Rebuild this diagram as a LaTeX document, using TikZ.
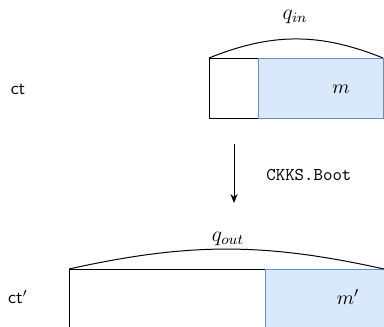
\documentclass[tikz,border=0pt]{standalone}
\usetikzlibrary{arrows.meta}
\definecolor{msgfill}{HTML}{DAE8FC}
\definecolor{msgdraw}{HTML}{6C8EBF}
\tikzset{
  plainpart/.style={draw=black, line width=0.55pt},
  msgpart/.style={fill=msgfill, draw=msgdraw, line width=0.55pt},
  modarc/.style={draw=black, line width=0.55pt},
  lbl/.style={inner sep=0pt, font=\sffamily},
  mathlbl/.style={inner sep=0pt, font=\fontsize{11}{13}\selectfont},
  modlbl/.style={inner sep=0pt, font=\fontsize{12}{14}\selectfont},
}
\begin{document}
\begin{tikzpicture}[x=0.5556pt, y=-0.5556pt]
  \useasboundingbox (0,0) rectangle (384,326);
  \clip (0,0) rectangle (384,326);

  % input ciphertext: modulus q_in, message block m
  \path[plainpart] (209,58) rectangle (258,118);
  \path[msgpart] (258,58) rectangle (383,118);
  \coordinate (inL) at (209,58);
  \coordinate (inR) at (383,58);
  \draw[modarc] (inL) to[bend left=22] (inR);
  \node[modlbl] (qin) at (295,17) {$q_{in}$};
  \node[mathlbl] (m) at (341,89) {$m$};
  \node[lbl] (ct) at (18,89) {ct};

  % bootstrapping step
  \coordinate (bootS) at (234,144);
  \coordinate (bootE) at (234,203);
  \draw[line width=0.55pt, -{Stealth[length=5pt,width=4pt]}] (bootS) -- (bootE);
  \node[anchor=west, inner sep=0pt] (boot) at (266,175) {\texttt{CKKS.Boot}};

  % output ciphertext: modulus q_out, message block m'
  \path[plainpart] (69,269) rectangle (265,350);
  \path[msgpart] (265,269) rectangle (384,350);
  \coordinate (outL) at (69,269);
  \coordinate (outR) at (384,269);
  \draw[modarc] (outL) to[bend left=12.5] (outR);
  \node[modlbl] (qout) at (228,239) {$q_{out}$};
  \node[mathlbl] (mp) at (348,297) {$m'$};
  \node[lbl] (ctp) at (18,297) {$\textsf{ct}'$};
\end{tikzpicture}
\end{document}
